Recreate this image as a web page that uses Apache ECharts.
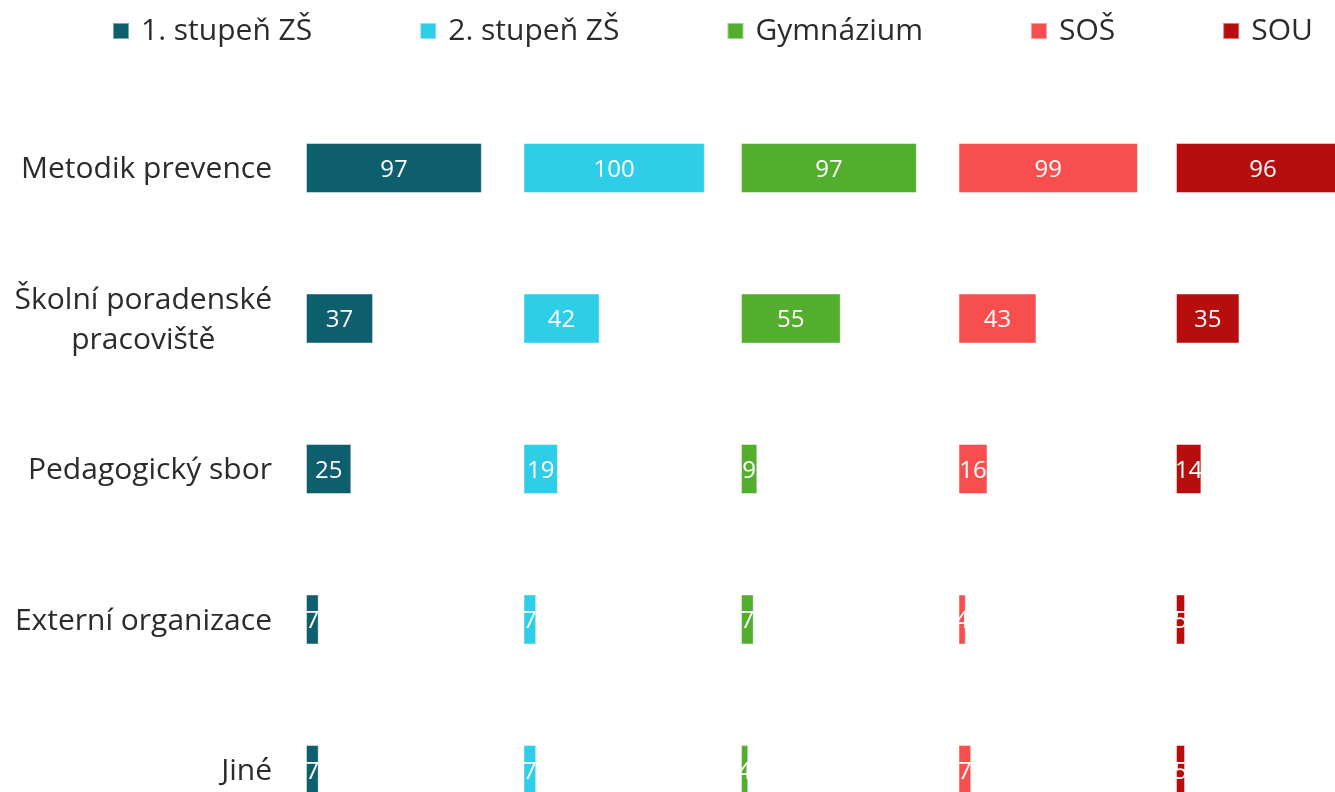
<!DOCTYPE html>
<html>
<head>
<meta charset="utf-8">
<script src="https://cdn.jsdelivr.net/npm/echarts@6/dist/echarts.min.js"></script>
<style>
  html, body { margin: 0; padding: 0; background: #ffffff; overflow: hidden; }
  #chart { width: 1420px; height: 870px; }
</style>
</head>
<body>
<div id="chart"></div>
<script>
const categories = ['Metodik prevence', 'Školní poradenské\npracoviště', 'Pedagogický sbor', 'Externí organizace', 'Jiné']
const seriesNames = ['1. stupeň ZŠ', '2. stupeň ZŠ', 'Gymnázium', 'SOŠ', 'SOU']
const zs1 = [97, 37, 25, 7, 7]
const zs2 = [100, 42, 19, 7, 7]
const gymnazium = [97, 55, 9, 7, 4]
const sos = [99, 43, 16, 4, 7]
const sou = [96, 35, 14, 5, 5]
const colors = ['#0e5f6e', '#2ecde8', '#53ae2e', '#f94e4e', '#b80d0d']

const values = [zs1, zs2, gymnazium, sos, sou]
const fontFamily = '"Open Sans", "Noto Sans", sans-serif'
const panelLeft = 306
const panelWidth = 217.5

const grids = []
const xAxes = []
const yAxes = []
const series = []

values.forEach((data, i) => {
  grids.push({
    left: panelLeft + i * panelWidth,
    width: panelWidth,
    top: 92.75,
    height: 752.5,
    containLabel: false
  })
  xAxes.push({
    type: 'value',
    gridIndex: i,
    min: 0,
    max: 120,
    show: false
  })
  yAxes.push({
    type: 'category',
    gridIndex: i,
    data: categories,
    inverse: true,
    axisLine: { show: false },
    axisTick: { show: false },
    axisLabel: {
      show: i === 0,
      margin: 34,
      fontSize: 30,
      fontFamily: fontFamily,
      color: '#2b2b2b',
      lineHeight: 40,
      formatter: (v) => v.split('\n').map(s => '{c|' + s + '}').join('\n'),
      rich: {
        c: { align: 'center', fontSize: 30, fontFamily: fontFamily, color: '#2b2b2b', lineHeight: 40, padding: [3, 0, 0, 0] }
      }
    }
  })
  series.push({
    name: seriesNames[i],
    type: 'bar',
    xAxisIndex: i,
    yAxisIndex: i,
    data: data,
    barWidth: 50,
    itemStyle: {
      color: colors[i],
      borderColor: 'rgba(255,255,255,0.45)',
      borderWidth: 1
    },
    label: {
      show: true,
      position: 'inside',
      color: '#ffffff',
      fontSize: 24,
      fontFamily: fontFamily,
      offset: [0, 2]
    }
  })
})

const chart = echarts.init(document.getElementById('chart'))
chart.setOption({
  animation: false,
  color: colors,
  legend: {
    data: seriesNames,
    left: 112,
    top: 16,
    padding: 0,
    itemWidth: 16,
    itemHeight: 16,
    itemGap: 107,
    icon: 'rect',
    textStyle: {
      fontSize: 30,
      fontFamily: fontFamily,
      color: '#2b2b2b',
      padding: [0, 0, 0, 7]
    }
  },
  grid: grids,
  xAxis: xAxes,
  yAxis: yAxes,
  series: series
})
</script>
</body>
</html>
